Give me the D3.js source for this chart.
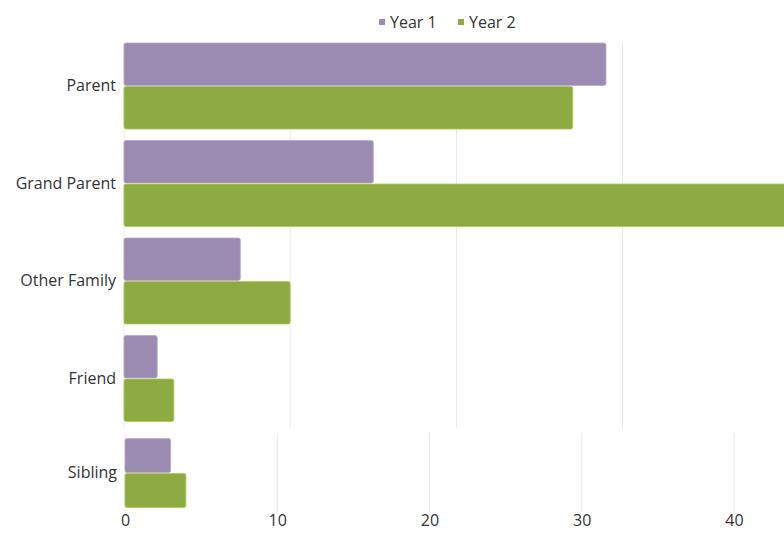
<!DOCTYPE html>
<html>
<head>
<meta charset="utf-8">
<script src="https://cdn.jsdelivr.net/npm/d3@7"></script>
<style>
  body { margin: 0; background: #fff; }
  text { font-family: "Open Sans", sans-serif; }
</style>
</head>
<body>
<svg width="784" height="533"></svg>
<script>
(function (d3) {
    'use strict';

    // data
    const categories = ['Parent', 'Grand Parent', 'Other Family', 'Friend', 'Sibling'];
    const seriesNames = ['Year 1', 'Year 2'];
    const year1 = [29, 15, 7, 2, 3];
    const year2 = [27, 42, 10, 3, 4];
    const tickValues = [0, 10, 20, 30, 40];
    const colors = ['#9c8bb1', '#8eaa43'];

    const svg = d3.select('svg');
    const fontSize = 16;

    const rows = categories.map((c, i) => ({ cat: c, vals: [year1[i], year2[i]] }));

    // the picture is two crops of the same chart at slightly different sizes
    function panel(data, xRange, yRange, gridY) {
        const g = svg.append('g');

        const x = d3.scaleLinear().domain([0, 40]).range(xRange);
        const y = d3.scaleBand()
            .domain(data.map(d => d.cat))
            .range(yRange)
            .paddingInner(0.118)
            .paddingOuter(0);
        const ySub = d3.scaleBand()
            .domain(seriesNames)
            .range([0, y.bandwidth()])
            .paddingInner(0.025);

        // gridlines
        g.selectAll('.grid')
            .data(tickValues)
            .enter().append('line')
            .attr('x1', d => x(d)).attr('x2', d => x(d))
            .attr('y1', gridY[0]).attr('y2', gridY[1])
            .attr('stroke', '#e8e8e8')
            .attr('stroke-width', 1);

        const groups = g.selectAll('.cat')
            .data(data)
            .enter().append('g')
            .attr('transform', d => `translate(0, ${y(d.cat)})`);

        groups.selectAll('rect')
            .data(d => d.vals.map((v, i) => ({ v, i })))
            .enter().append('rect')
            .attr('x', x(0))
            .attr('y', d => ySub(seriesNames[d.i]))
            .attr('width', d => x(d.v) - x(0))
            .attr('height', ySub.bandwidth())
            .attr('rx', 2)
            .attr('fill', d => colors[d.i])
            .attr('stroke', d => d3.color(colors[d.i]).brighter(0.5))
            .attr('stroke-width', 0.8);

        const yAxis = g.append('g')
            .attr('transform', `translate(${x(0) - 8}, 0)`)
            .call(d3.axisLeft(y).tickSize(0).tickPadding(0));
        yAxis.select('.domain').remove();
        yAxis.selectAll('text')
            .attr('font-size', fontSize)
            .attr('fill', '#333')
            .style('font-family', '"Open Sans", sans-serif');

        return x;
    }

    panel(rows.slice(0, 4), [124, 124 + 16.62 * 40], [43, 421.5], [43, 428]);
    const xLow = panel(rows.slice(4), [125, 734], [434, 512], [433, 512]);

    const xAxis = svg.append('g')
        .attr('transform', 'translate(0, 515)')
        .call(d3.axisBottom(xLow).tickValues(tickValues).tickSize(0).tickPadding(0));
    xAxis.select('.domain').remove();
    xAxis.selectAll('text')
        .attr('font-size', fontSize)
        .attr('fill', '#333')
        .style('font-family', '"Open Sans", sans-serif');

    // legend
    const legend = svg.append('g').attr('transform', 'translate(379, 22)');
    const item = legend.selectAll('g')
        .data(seriesNames)
        .enter().append('g')
        .attr('transform', (d, i) => `translate(${i * 79}, 0)`);
    item.append('rect')
        .attr('x', 0).attr('y', -3)
        .attr('width', 6).attr('height', 6)
        .attr('fill', (d, i) => colors[i]);
    item.append('text')
        .attr('x', 11).attr('y', 5.5)
        .attr('font-size', fontSize)
        .attr('fill', '#333')
        .text(d => d);

}(d3));
</script>
</body>
</html>
